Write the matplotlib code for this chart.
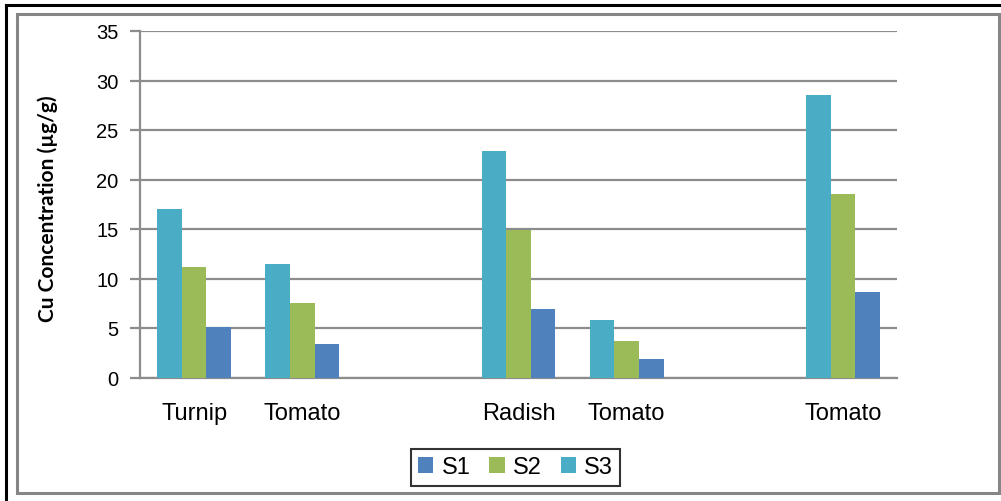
import numpy as np
import matplotlib
matplotlib.use('Agg')
import matplotlib.pyplot as plt
from matplotlib.patches import Rectangle
from matplotlib.lines import Line2D

plt.rcParams['font.family'] = ['Liberation Sans', 'DejaVu Sans']

# Cu in vegetables at three sites (blank slots keep the groups apart)
categories = ['Turnip', 'Tomato', '', 'Radish', 'Tomato', '', 'Tomato']
s1 = [5.1, 3.4, np.nan, 6.9, 1.9, np.nan, 8.6]
s2 = [11.2, 7.5, np.nan, 14.9, 3.7, np.nan, 18.5]
s3 = [17.0, 11.5, np.nan, 22.9, 5.8, np.nan, 28.5]
series_names = ['S1', 'S2', 'S3']
colors = ['#4F81BD', '#9BBB59', '#4BACC6']

W, H = 1001, 502
fig = plt.figure(figsize=(W / 100, H / 100), dpi=100)
ax = fig.add_axes([140 / W, 1 - 378.5 / H, (897 - 140) / W, (378.5 - 32) / H])

x = np.arange(len(categories))
bw = 0.228
# S3 on the left, S1 on the right
ax.bar(x + bw, s1, bw, color=colors[0], label=series_names[0], zorder=3)
ax.bar(x, s2, bw, color=colors[1], label=series_names[1], zorder=3)
ax.bar(x - bw, s3, bw, color=colors[2], label=series_names[2], zorder=3)

grid_c = '#8C8C8C'
ax.set_xlim(-0.5, len(categories) - 0.5)
ax.set_ylim(0, 35)
ax.set_yticks(np.arange(0, 36, 5))
ax.yaxis.grid(True, color=grid_c, linewidth=1.6, zorder=0)
ax.set_axisbelow(True)
for side in ['top', 'right']:
    ax.spines[side].set_visible(False)
ax.spines['left'].set_color(grid_c)
ax.spines['left'].set_linewidth(1.6)
ax.spines['bottom'].set_color(grid_c)
ax.spines['bottom'].set_linewidth(1.6)
ax.tick_params(axis='y', length=7.5, width=1.6, color=grid_c, pad=8, labelsize=14.5)
ax.set_xticks(x)
ax.set_xticklabels(categories)
ax.tick_params(axis='x', length=0, pad=18, labelsize=17)

ax.set_ylabel('Cu Concentration (µg/g)', fontsize=15, fontweight='bold',
              family=['Lato', 'DejaVu Sans'])
ax.yaxis.set_label_coords(-0.108, 0.49)

handles, labels = ax.get_legend_handles_labels()
leg = fig.legend(handles, labels,
                 loc='center', bbox_to_anchor=(515.5 / W, 1 - 468.5 / H),
                 ncol=3, fontsize=17, frameon=True, fancybox=False,
                 handlelength=0.65, handleheight=0.65, handletextpad=0.35,
                 columnspacing=0.8, borderpad=0.3)
leg.get_frame().set_edgecolor('black')
leg.get_frame().set_linewidth(1.5)

# gray chart border and black outer edge
fig.patches.append(Rectangle((17 / W, 1 - 494 / H), (999 - 17) / W, (494 - 15) / H,
                             transform=fig.transFigure, fill=False,
                             edgecolor='#868686', linewidth=2.2))
fig.lines.append(Line2D([6 / W, 6 / W], [0, 1 - 6 / H], transform=fig.transFigure,
                        color='black', linewidth=2.2))
fig.lines.append(Line2D([6 / W, 1], [1 - 6 / H, 1 - 6 / H], transform=fig.transFigure,
                        color='black', linewidth=2.2))

fig.savefig('out.png', dpi=100)
